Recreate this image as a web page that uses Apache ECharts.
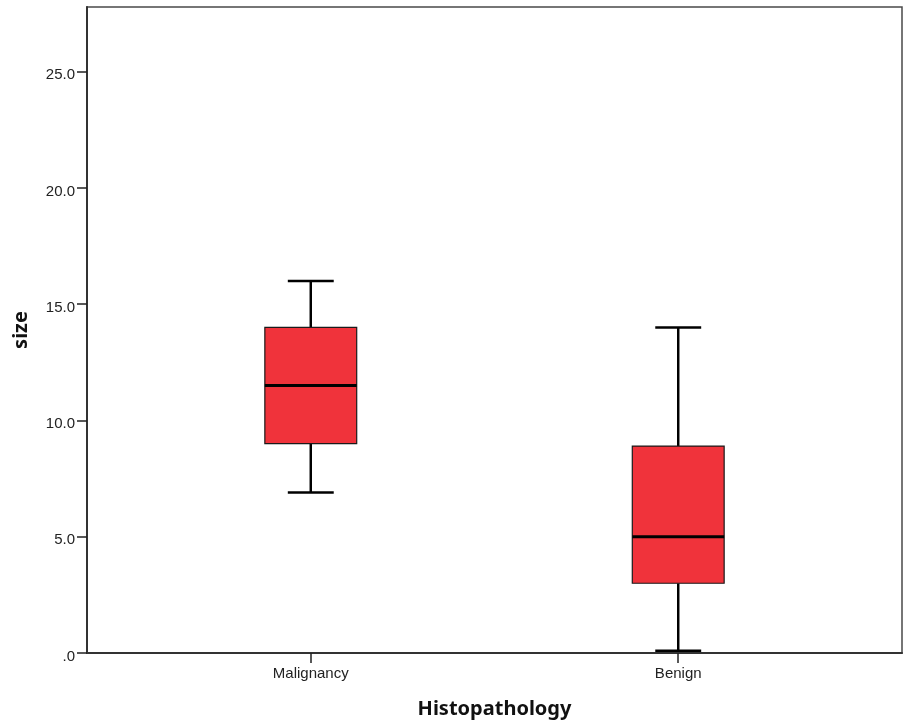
<!DOCTYPE html>
<html>
<head>
<meta charset="utf-8">
<script src="https://cdn.jsdelivr.net/npm/echarts@6/dist/echarts.min.js"></script>
<style>
html,body{margin:0;padding:0;background:#fff;}
#chart{width:903px;height:726px;}
</style>
</head>
<body>
<div id="chart"></div>
<script>
// Data
var categories = ['Malignancy', 'Benign'];
var whiskerLow = [6.9, 0.1];
var quartile1 = [9.0, 3.0];
var medianVals = [11.5, 5.0];
var quartile3 = [14.0, 8.9];
var whiskerHigh = [16.0, 14.0];
var yTicks = [0, 5, 10, 15, 20, 25];
var yTickLabels = ['.0', '5.0', '10.0', '15.0', '20.0', '25.0'];
var xTicks = [1, 2];

var BOX_W = 0.25;   // box width in x-axis units
var CAP_W = 0.125;  // whisker cap width in x-axis units

var seriesData = categories.map(function (c, i) {
  return [i + 1, whiskerLow[i], quartile1[i], medianVals[i], quartile3[i], whiskerHigh[i]];
});

var chart = echarts.init(document.getElementById('chart'), null, {renderer: 'canvas'});

var labelFont = "'Liberation Sans', Arial, sans-serif";
var nameFont = "'Noto Sans', 'DejaVu Sans', sans-serif";

chart.setOption({
  animation: false,
  backgroundColor: '#ffffff',
  grid: {
    left: 87, right: 1, top: 7, bottom: 73,
    show: true, borderColor: '#4a4a4a', borderWidth: 1.5, backgroundColor: 'transparent'
  },
  xAxis: {
    type: 'value',
    min: 0.391, max: 2.609,
    name: 'Histopathology',
    nameLocation: 'middle',
    nameGap: 46,
    nameTextStyle: {fontFamily: nameFont, fontWeight: 'bold', fontSize: 20, color: '#111'},
    axisLine: {show: true, onZero: false, lineStyle: {color: '#333', width: 2}},
    axisTick: {show: true, customValues: xTicks, length: 10, lineStyle: {color: '#222', width: 1.5}},
    axisLabel: {
      show: true, customValues: xTicks, margin: 13,
      fontFamily: labelFont, fontSize: 15, color: '#222',
      formatter: function (v) { return categories[Math.round(v) - 1] || ''; }
    },
    splitLine: {show: false}
  },
  yAxis: {
    type: 'value',
    min: 0, max: 27.78,
    name: 'size',
    nameLocation: 'middle',
    nameGap: 56,
    nameTextStyle: {fontFamily: nameFont, fontWeight: 'bold', fontSize: 20, color: '#111'},
    axisLine: {show: true, onZero: false, lineStyle: {color: '#333', width: 2}},
    axisTick: {show: true, customValues: yTicks, length: 10, lineStyle: {color: '#222', width: 1.5}},
    axisLabel: {
      show: true, customValues: yTicks, margin: 12,
      fontFamily: labelFont, fontSize: 15, color: '#222',
      formatter: function (v) {
        var idx = yTicks.indexOf(Math.round(v));
        return idx >= 0 ? '{v|' + yTickLabels[idx] + '}' : '';
      },
      rich: {
        v: {fontFamily: labelFont, fontSize: 15, color: '#222', padding: [7, 0, 0, 0]}
      }
    },
    splitLine: {show: false}
  },
  series: [{
    type: 'custom',
    data: seriesData,
    encode: {x: 0, y: [1, 2, 3, 4, 5]},
    renderItem: function (params, api) {
      var x = api.value(0);
      var pLow = api.coord([x, api.value(1)]);
      var pQ1 = api.coord([x, api.value(2)]);
      var pMed = api.coord([x, api.value(3)]);
      var pQ3 = api.coord([x, api.value(4)]);
      var pHigh = api.coord([x, api.value(5)]);
      var halfBox = api.size([BOX_W, 0])[0] / 2;
      var halfCap = api.size([CAP_W, 0])[0] / 2;
      var cx = pMed[0];
      var whisk = {stroke: '#000', lineWidth: 2.5};
      return {
        type: 'group',
        children: [
          {type: 'line', shape: {x1: cx, y1: pQ3[1], x2: cx, y2: pHigh[1]}, style: whisk},
          {type: 'line', shape: {x1: cx, y1: pQ1[1], x2: cx, y2: pLow[1]}, style: whisk},
          {type: 'line', shape: {x1: cx - halfCap, y1: pHigh[1], x2: cx + halfCap, y2: pHigh[1]}, style: whisk},
          {type: 'line', shape: {x1: cx - halfCap, y1: pLow[1], x2: cx + halfCap, y2: pLow[1]}, style: whisk},
          {type: 'rect', shape: {x: cx - halfBox, y: pQ3[1], width: halfBox * 2, height: pQ1[1] - pQ3[1]},
            style: {fill: '#f0333b', stroke: '#1a1a1a', lineWidth: 1.2}},
          {type: 'line', shape: {x1: cx - halfBox, y1: pMed[1], x2: cx + halfBox, y2: pMed[1]},
            style: {stroke: '#000', lineWidth: 3}}
        ]
      };
    }
  }]
});
</script>
</body>
</html>
